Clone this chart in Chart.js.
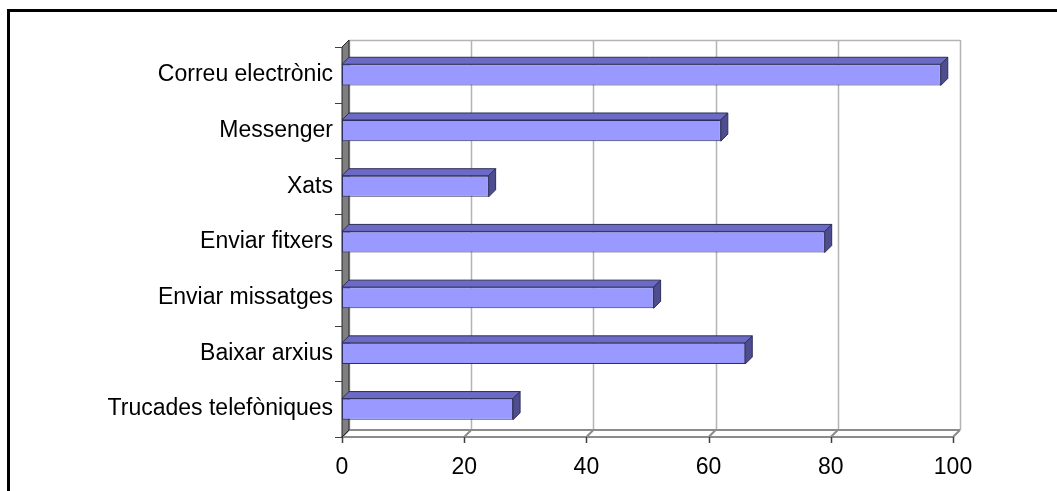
<!DOCTYPE html>
<html>
<head>
<meta charset="utf-8">
<script src="https://cdn.jsdelivr.net/npm/chart.js@4/dist/chart.umd.min.js"></script>
<style>
  html, body { margin: 0; padding: 0; background: #ffffff; }
  #wrap { position: relative; width: 1057px; height: 491px; }
  canvas { display: block; }
</style>
</head>
<body>
<div id="wrap"><canvas id="chart" width="1057" height="491"></canvas></div>
<script>
// Usos d'Internet
const categories = [
  'Correu electrònic',
  'Messenger',
  'Xats',
  'Enviar fitxers',
  'Enviar missatges',
  'Baixar arxius',
  'Trucades telefòniques'
];
const values = [98, 62, 24, 79, 51, 66, 28];
const xTickValues = [0, 20, 40, 60, 80, 100];

// depth of the pseudo-3D projection (pixels right / up)
const DX = 7, DY = -7;

const frame3d = {
  id: 'frame3d',
  beforeDraw(chart) {
    const ctx = chart.ctx;
    ctx.save();
    ctx.fillStyle = '#ffffff';
    ctx.fillRect(0, 0, chart.width, chart.height);
    // outer frame
    ctx.fillStyle = '#000000';
    ctx.fillRect(7, 9, chart.width - 7, 3);
    ctx.fillRect(7, 9, 3, chart.height - 9);
    ctx.restore();
  },
  beforeDatasetsDraw(chart) {
    const { ctx, chartArea, scales } = chart;
    const { left, right, top, bottom } = chartArea;
    const x = scales.x;
    ctx.save();

    // back wall: gridlines and top edge
    ctx.strokeStyle = '#b4b4b4';
    ctx.lineWidth = 1.5;
    ctx.beginPath();
    xTickValues.forEach(v => {
      const px = Math.round(x.getPixelForValue(v)) + DX + 0.5;
      ctx.moveTo(px, top + DY);
      ctx.lineTo(px, bottom + DY);
    });
    ctx.moveTo(left + DX, top + DY + 0.5);
    ctx.lineTo(right + DX, top + DY + 0.5);
    ctx.stroke();

    // floor
    ctx.strokeStyle = '#8c8c8c';
    ctx.lineWidth = 2;
    ctx.beginPath();
    ctx.moveTo(left, bottom);
    ctx.lineTo(right, bottom);
    ctx.moveTo(left + DX, bottom + DY);
    ctx.lineTo(right + DX, bottom + DY);
    xTickValues.forEach(v => {
      const px = x.getPixelForValue(v);
      ctx.moveTo(px, bottom);
      ctx.lineTo(px + DX, bottom + DY);
    });
    ctx.stroke();

    // value tick marks under the floor
    ctx.strokeStyle = '#404040';
    ctx.lineWidth = 1.5;
    ctx.beginPath();
    xTickValues.forEach(v => {
      const px = Math.round(x.getPixelForValue(v)) + 0.5;
      ctx.moveTo(px, bottom);
      ctx.lineTo(px, bottom + 6);
    });
    ctx.stroke();

    // side wall
    ctx.fillStyle = '#7f7f7f';
    ctx.strokeStyle = '#262626';
    ctx.lineWidth = 1;
    ctx.beginPath();
    ctx.moveTo(left, top);
    ctx.lineTo(left + DX, top + DY);
    ctx.lineTo(left + DX, bottom + DY);
    ctx.lineTo(left, bottom);
    ctx.closePath();
    ctx.fill();
    ctx.stroke();

    // category separators on the wall edge
    ctx.strokeStyle = '#404040';
    ctx.lineWidth = 1.2;
    ctx.beginPath();
    const n = categories.length;
    for (let i = 0; i <= n; i++) {
      const yy = Math.round(top + i * (bottom - top) / n) + 0.5;
      ctx.moveTo(left - 7, yy);
      ctx.lineTo(left, yy);
    }
    ctx.stroke();
    ctx.restore();
  },
  afterDatasetsDraw(chart) {
    const ctx = chart.ctx;
    const meta = chart.getDatasetMeta(0);
    ctx.save();
    ctx.lineWidth = 1;
    ctx.strokeStyle = '#2e2e5c';
    meta.data.forEach(bar => {
      const p = bar.getProps(['x', 'y', 'base', 'height'], true);
      const xl = p.base, xr = p.x;
      const t = p.y - p.height / 2, b = p.y + p.height / 2;
      // top face
      ctx.fillStyle = '#6b6bc6';
      ctx.beginPath();
      ctx.moveTo(xl, t);
      ctx.lineTo(xl + DX, t + DY);
      ctx.lineTo(xr + DX, t + DY);
      ctx.lineTo(xr, t);
      ctx.closePath();
      ctx.fill();
      ctx.stroke();
      // end face
      ctx.fillStyle = '#4d4d90';
      ctx.beginPath();
      ctx.moveTo(xr, t);
      ctx.lineTo(xr + DX, t + DY);
      ctx.lineTo(xr + DX, b + DY);
      ctx.lineTo(xr, b);
      ctx.closePath();
      ctx.fill();
      ctx.stroke();
    });
    ctx.restore();
  }
};

const font = { family: "'Liberation Sans', Arial, sans-serif", size: 23 };

new Chart(document.getElementById('chart'), {
  type: 'bar',
  data: {
    labels: categories,
    datasets: [{
      data: values,
      backgroundColor: '#9999ff',
      borderColor: '#2e2e5c',
      borderWidth: 1,
      borderSkipped: false,
      barPercentage: 0.76,
      categoryPercentage: 0.5
    }]
  },
  options: {
    indexAxis: 'y',
    responsive: false,
    animation: false,
    devicePixelRatio: 1,
    layout: { padding: { top: 47, right: 104, left: 0, bottom: 0 } },
    plugins: { legend: { display: false }, tooltip: { enabled: false } },
    scales: {
      x: {
        min: 0,
        max: 100,
        afterBuildTicks(scale) { scale.ticks = xTickValues.map(v => ({ value: v })); },
        afterFit(scale) { scale.height = 54; },
        grid: { display: false, drawTicks: false },
        border: { display: false },
        ticks: { color: '#000000', font, padding: 17, maxRotation: 0 }
      },
      y: {
        afterFit(scale) { scale.width = 342; },
        grid: { display: false, drawTicks: false },
        border: { display: false },
        ticks: { color: '#000000', font, padding: 9 }
      }
    }
  },
  plugins: [frame3d]
});
</script>
</body>
</html>
